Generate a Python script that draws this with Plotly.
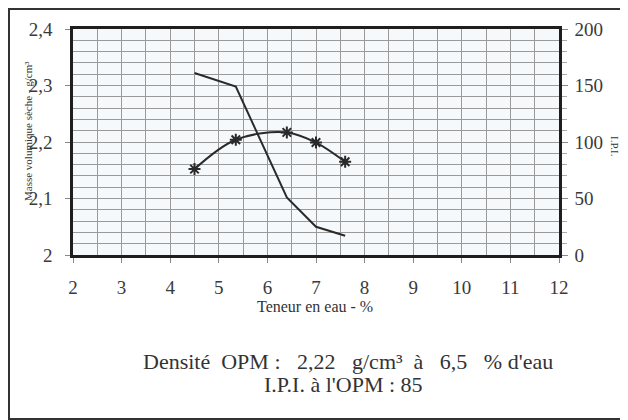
import plotly.graph_objects as go

# Data
teneur = [4.5, 5.35, 6.4, 7.0, 7.6]
densite = [2.152, 2.204, 2.217, 2.199, 2.165]
ipi = [161, 149, 51, 25, 17]

x_ticks = [2, 3, 4, 5, 6, 7, 8, 9, 10, 11, 12]

# page body has an 8px margin: figure coordinates = screen - 8
OFF = 8
W, H = 628 - OFF, 420 - OFF
L, R, T, B = 73 - OFF, 559 - OFF, 29 - OFF, 255 - OFF
pw, ph = R - L, B - T

def px(sx):
    return (sx - OFF - L) / pw

def py(sy):
    return (B - (sy - OFF)) / ph

SERIF = "Liberation Serif"
INK = "#2a2a2a"
GRID = "#9a9a9a"

fig = go.Figure()
fig.add_trace(go.Scatter(
    x=teneur, y=ipi, yaxis="y2", mode="lines",
    line=dict(color=INK, width=2), showlegend=False,
))
fig.add_trace(go.Scatter(
    x=teneur, y=densite, mode="lines+markers",
    line=dict(color=INK, width=2, shape="spline", smoothing=1.0),
    marker=dict(symbol="asterisk-open", size=10, line=dict(color=INK, width=2)),
    showlegend=False,
))

tickfont = dict(family=SERIF, size=19, color="#3a3a3a")

def note(text, sx, sy, size, angle=0):
    return dict(text=text, xref="paper", yref="paper", x=px(sx), y=py(sy),
                xanchor="center", yanchor="middle", textangle=angle,
                showarrow=False, font=dict(family=SERIF, size=size, color="#333"))

fig.update_layout(
    width=W, height=H,
    margin=dict(l=L, r=W - R, t=T, b=H - B),
    paper_bgcolor="#ffffff",
    plot_bgcolor="#f6f9fc",
    separators=", ",
    font=dict(family=SERIF, color="#333333"),
    xaxis=dict(
        range=[2, 12], tickvals=x_ticks, showgrid=True, gridcolor=GRID, gridwidth=1,
        minor=dict(dtick=0.5, showgrid=True, gridcolor=GRID, gridwidth=1),
        ticks="outside", ticklen=5, tickcolor="#888",
        showline=True, linecolor="#1e1e1e", linewidth=2.5, mirror=True,
        tickfont=tickfont, ticklabelstandoff=8,
        zeroline=False,
    ),
    yaxis=dict(
        range=[2, 2.4], dtick=0.1, showgrid=True, gridcolor=GRID, gridwidth=1,
        minor=dict(dtick=0.02, showgrid=True, gridcolor=GRID, gridwidth=1),
        ticks="outside", ticklen=5, tickcolor="#888",
        showline=True, linecolor="#1e1e1e", linewidth=2.5, mirror=True,
        tickfont=tickfont, ticklabelstandoff=9,
        zeroline=False,
    ),
    yaxis2=dict(
        range=[0, 200], dtick=50, overlaying="y", side="right", showgrid=False,
        ticks="outside", ticklen=6, tickcolor="#888",
        minor=dict(dtick=10, ticks="outside", ticklen=5, tickcolor="#aaa"),
        showline=True, linecolor="#1e1e1e", linewidth=2.5,
        tickfont=tickfont, ticklabelstandoff=3,
        zeroline=False,
    ),
    shapes=[dict(
        type="rect", xref="paper", yref="paper",
        x0=px(9), x1=px(700), y0=py(9), y1=py(419),
        line=dict(color="#333", width=2), fillcolor="rgba(0,0,0,0)", layer="below",
    )],
    annotations=[
        note("Masse volumique sèche - g/cm³", 28, 131, 11, -90),
        note("I.P.I.", 615, 146, 11, 90),
        note("Teneur en eau - %", 315, 306, 16),
        note("Densité\u00a0 OPM\u00a0:\u00a0\u00a0 2,22\u00a0\u00a0 g/cm³\u00a0 à\u00a0\u00a0 6,5\u00a0\u00a0 % d'eau",
             348, 361, 22),
        note("I.P.I. à l'OPM : 85", 343, 384, 22),
    ],
)

fig.write_html("out.html")
